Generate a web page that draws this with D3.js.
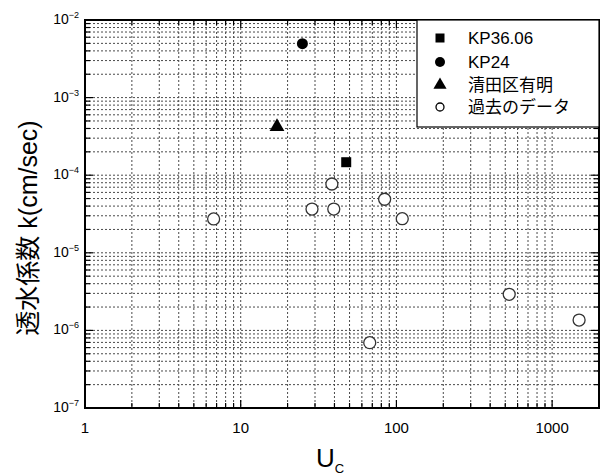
<!DOCTYPE html>
<html><head><meta charset="utf-8">
<script src="https://cdn.jsdelivr.net/npm/d3@7"></script>
<style>body{margin:0;background:#fff}text{font-family:"Liberation Sans","Noto Sans CJK JP",sans-serif;fill:#000}</style>
</head><body><svg id="c" width="601" height="476"></svg>
<script>
// ---- data ----
const seriesNames = ["KP36.06", "KP24", "清田区有明", "過去のデータ"];
const kp3606U = [47.6];
const kp3606K = [1.47e-4];
const kp24U = [24.9];
const kp24K = [4.95e-3];
const kiyotaU = [17.1];
const kiyotaK = [4.2e-4];
const pastU = [6.7, 28.7, 38.5, 39.6, 84, 109, 67.4, 530, 1490];
const pastK = [2.73e-5, 3.66e-5, 7.7e-5, 3.66e-5, 4.9e-5, 2.75e-5, 6.95e-7, 2.92e-6, 1.36e-6];
const xTickValues = [1, 10, 100, 1000];
const xTickLabels = ["1", "10", "100", "1000"];
const yTickExponents = [-2, -3, -4, -5, -6, -7];
const xLabel = "U";
const xLabelSub = "C";
const yLabel = "透水係数 k(cm/sec)";

// ---- layout ----
const L = 85, R = 599, T = 20, B = 408;
const svg = d3.select("#c");
const x = d3.scaleLog().domain([1, 2000]).range([L, R]);
const y = d3.scaleLog().domain([1e-7, 1e-2]).range([B, T]);

// grid values
const xGrid = [];
for (let d = 1; d <= 1000; d *= 10) for (let m = 1; m <= 9; m++) { const v = d * m; if (v <= 2000) xGrid.push(v); }
const yGrid = [];
for (let e = -7; e < -2; e++) for (let m = 1; m <= 9; m++) yGrid.push(m * Math.pow(10, e));
yGrid.push(1e-2);

const g = svg.append("g");
g.selectAll("line.vg").data(xGrid.filter(v => v > 1 && v < 2000)).enter().append("line")
  .attr("x1", d => x(d)).attr("x2", d => x(d)).attr("y1", T).attr("y2", B)
  .attr("stroke", "#4a4a4a").attr("stroke-width", 1).attr("stroke-dasharray", "2,2");
g.selectAll("line.hg").data(yGrid.filter(v => v > 1e-7 && v < 1e-2)).enter().append("line")
  .attr("y1", d => y(d)).attr("y2", d => y(d)).attr("x1", L).attr("x2", R)
  .attr("stroke", "#4a4a4a").attr("stroke-width", 1).attr("stroke-dasharray", "2,2");

// ticks inward on all sides
const isMajor = v => Math.abs(Math.log10(v) - Math.round(Math.log10(v))) < 1e-9;
xGrid.forEach(v => {
  const len = isMajor(v) ? 8 : 5;
  g.append("line").attr("x1", x(v)).attr("x2", x(v)).attr("y1", B).attr("y2", B - len).attr("stroke", "#000").attr("stroke-width", 1.2);
  g.append("line").attr("x1", x(v)).attr("x2", x(v)).attr("y1", T).attr("y2", T + len).attr("stroke", "#000").attr("stroke-width", 1.2);
});
yGrid.forEach(v => {
  const len = isMajor(v) ? 8 : 5;
  g.append("line").attr("y1", y(v)).attr("y2", y(v)).attr("x1", L).attr("x2", L + len).attr("stroke", "#000").attr("stroke-width", 1.2);
  g.append("line").attr("y1", y(v)).attr("y2", y(v)).attr("x1", R).attr("x2", R - len).attr("stroke", "#000").attr("stroke-width", 1.2);
});

// frame
svg.append("rect").attr("x", L).attr("y", T).attr("width", R - L).attr("height", B - T)
  .attr("fill", "none").attr("stroke", "#000").attr("stroke-width", 2);

// x tick labels
svg.selectAll("text.xt").data(xTickValues).enter().append("text")
  .attr("x", d => x(d)).attr("y", 433).attr("text-anchor", "middle")
  .attr("font-size", 15).text((d, i) => xTickLabels[i]);

// y tick labels
yTickExponents.forEach(e => {
  const t = svg.append("text").attr("x", 79).attr("y", y(Math.pow(10, e)) + 4)
    .attr("text-anchor", "end").attr("font-size", 14);
  t.append("tspan").text("10");
  t.append("tspan").attr("font-size", 9).attr("dy", -6).text("−" + Math.abs(e));
});

// axis labels
const xl = svg.append("text").attr("x", 330).attr("y", 467).attr("text-anchor", "middle").attr("font-size", 26);
xl.append("tspan").text(xLabel);
xl.append("tspan").attr("font-size", 13).attr("dy", 6).text(xLabelSub);

svg.append("text").attr("transform", "translate(37,228) rotate(-90)")
  .attr("text-anchor", "middle").attr("font-size", 25).text(yLabel);

// points
const pg = svg.append("g");
pg.selectAll("circle.past").data(pastU.map((u, i) => [u, pastK[i]])).enter().append("circle")
  .attr("cx", d => x(d[0])).attr("cy", d => y(d[1])).attr("r", 6)
  .attr("fill", "#fff").attr("stroke", "#333").attr("stroke-width", 1.3);
pg.selectAll("rect.kp3606").data(kp3606U.map((u, i) => [u, kp3606K[i]])).enter().append("rect")
  .attr("x", d => x(d[0]) - 5).attr("y", d => y(d[1]) - 5).attr("width", 10).attr("height", 10).attr("fill", "#000");
pg.selectAll("circle.kp24").data(kp24U.map((u, i) => [u, kp24K[i]])).enter().append("circle")
  .attr("cx", d => x(d[0])).attr("cy", d => y(d[1])).attr("r", 5.5).attr("fill", "#000");
const tri = d3.symbol().type(d3.symbolTriangle).size(95);
pg.selectAll("path.kiyota").data(kiyotaU.map((u, i) => [u, kiyotaK[i]])).enter().append("path")
  .attr("transform", d => `translate(${x(d[0])},${y(d[1])})`).attr("d", tri).attr("fill", "#000");

// legend
const lg = svg.append("g");
lg.append("rect").attr("x", 417).attr("y", T).attr("width", R - 417).attr("height", 107)
  .attr("fill", "#fff").attr("stroke", "#000").attr("stroke-width", 1.2);
const rowsY = [38, 62, 85, 107];
const symX = 440;
lg.append("rect").attr("x", symX - 4.5).attr("y", rowsY[0] - 4.5).attr("width", 9).attr("height", 9).attr("fill", "#000");
lg.append("circle").attr("cx", symX).attr("cy", rowsY[1]).attr("r", 5).attr("fill", "#000");
lg.append("path").attr("transform", `translate(${symX},${rowsY[2]})`).attr("d", d3.symbol().type(d3.symbolTriangle).size(75)).attr("fill", "#000");
lg.append("circle").attr("cx", symX).attr("cy", rowsY[3]).attr("r", 4).attr("fill", "#fff").attr("stroke", "#000").attr("stroke-width", 1.3);
seriesNames.forEach((n, i) => {
  lg.append("text").attr("x", 468).attr("y", rowsY[i] + 6).attr("font-size", 17).text(n);
});
</script></body></html>
